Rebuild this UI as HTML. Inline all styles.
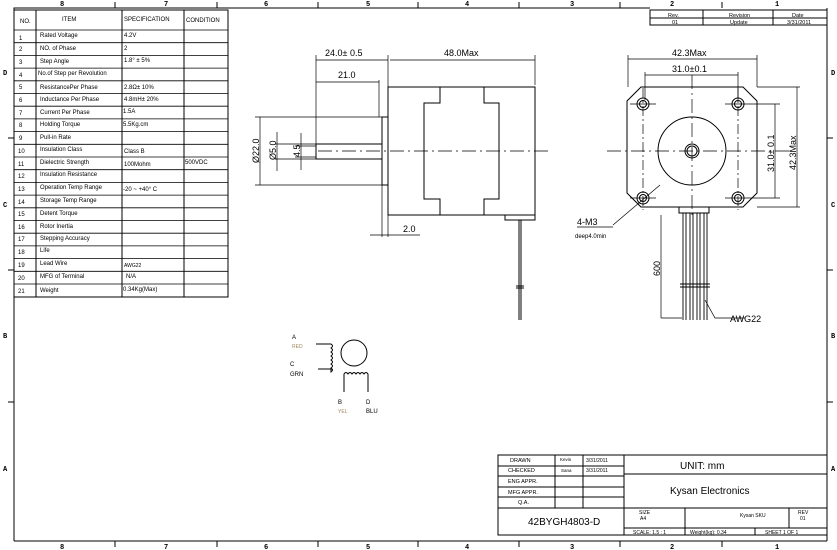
<!DOCTYPE html>
<html><head><meta charset="utf-8"><style>
html,body{margin:0;padding:0;background:#fff;}
svg{display:block;font-family:"Liberation Sans",sans-serif;}
</style></head><body>
<svg width="837" height="550" viewBox="0 0 837 550" xmlns="http://www.w3.org/2000/svg">
<g stroke="#000" fill="none" stroke-width="1">
<!-- border -->
<polyline points="14,541 14,8 650,8"/>
<line x1="827" y1="8" x2="827" y2="541"/>
<line x1="14" y1="541" x2="827" y2="541"/>
<!-- zone ticks -->
<g stroke-width="1">
<line x1="115" y1="2" x2="115" y2="8"/><line x1="217" y1="2" x2="217" y2="8"/><line x1="318" y1="2" x2="318" y2="8"/><line x1="418" y1="2" x2="418" y2="8"/><line x1="519" y1="2" x2="519" y2="8"/><line x1="620" y1="2" x2="620" y2="8"/><line x1="722" y1="2" x2="722" y2="8"/>
<line x1="115" y1="541" x2="115" y2="547"/><line x1="217" y1="541" x2="217" y2="547"/><line x1="318" y1="541" x2="318" y2="547"/><line x1="418" y1="541" x2="418" y2="547"/><line x1="519" y1="541" x2="519" y2="547"/><line x1="620" y1="541" x2="620" y2="547"/><line x1="722" y1="541" x2="722" y2="547"/>
<line x1="8" y1="138" x2="14" y2="138"/><line x1="8" y1="270" x2="14" y2="270"/><line x1="8" y1="402" x2="14" y2="402"/>
<line x1="827" y1="138" x2="833" y2="138"/><line x1="827" y1="270" x2="833" y2="270"/><line x1="827" y1="402" x2="833" y2="402"/>
</g>
<!-- spec table -->
<rect x="14" y="10" width="214" height="287"/>
<line x1="36" y1="10" x2="36" y2="297"/><line x1="122" y1="10" x2="122" y2="297"/><line x1="184" y1="10" x2="184" y2="297"/>
<g stroke-width="0.8">
<line x1="14" y1="30" x2="228" y2="30"/><line x1="14" y1="42.7" x2="228" y2="42.7"/><line x1="14" y1="55.4" x2="228" y2="55.4"/><line x1="14" y1="68.1" x2="228" y2="68.1"/><line x1="14" y1="80.8" x2="228" y2="80.8"/><line x1="14" y1="93.5" x2="228" y2="93.5"/><line x1="14" y1="106.2" x2="228" y2="106.2"/><line x1="14" y1="118.9" x2="228" y2="118.9"/><line x1="14" y1="131.6" x2="228" y2="131.6"/><line x1="14" y1="144.3" x2="228" y2="144.3"/><line x1="14" y1="157" x2="228" y2="157"/><line x1="14" y1="169.7" x2="228" y2="169.7"/><line x1="14" y1="182.4" x2="228" y2="182.4"/><line x1="14" y1="195.1" x2="228" y2="195.1"/><line x1="14" y1="207.8" x2="228" y2="207.8"/><line x1="14" y1="220.5" x2="228" y2="220.5"/><line x1="14" y1="233.2" x2="228" y2="233.2"/><line x1="14" y1="245.9" x2="228" y2="245.9"/><line x1="14" y1="258.6" x2="228" y2="258.6"/><line x1="14" y1="271.3" x2="228" y2="271.3"/><line x1="14" y1="284" x2="228" y2="284"/>
</g>
<!-- revision table -->
<rect x="650" y="10" width="177" height="15"/>
<line x1="650" y1="18" x2="827" y2="18"/><line x1="703" y1="10" x2="703" y2="25"/><line x1="773" y1="10" x2="773" y2="25"/>
<!-- side view -->
<rect x="388" y="87" width="147" height="128"/>
<polyline points="440,87 440,103 424,103 424,199 440,199 440,215"/>
<polyline points="484,87 484,103 499,103 499,199 484,199 484,215"/>
<rect x="382" y="117" width="6" height="68"/>
<rect x="316" y="144" width="66" height="15"/>
<line x1="318" y1="151" x2="552" y2="151" stroke-dasharray="14,4,2,4" stroke-width="0.8"/>
<path d="M505,215 v5 h30 v-5"/>
<line x1="519" y1="220" x2="519" y2="320"/><line x1="521" y1="220" x2="521" y2="320"/>
<line x1="516" y1="286" x2="524" y2="286"/><line x1="516" y1="288" x2="524" y2="288"/>
<g stroke-width="0.7">
<line x1="316" y1="55" x2="316" y2="144"/><line x1="388" y1="55" x2="388" y2="87"/><line x1="535" y1="55" x2="535" y2="85"/>
<line x1="316" y1="60" x2="388" y2="60"/><line x1="390" y1="60" x2="535" y2="60"/>
<line x1="379" y1="80" x2="379" y2="117"/><line x1="316" y1="82" x2="379" y2="82"/>
<line x1="255" y1="117" x2="382" y2="117"/><line x1="255" y1="185" x2="382" y2="185"/>
<line x1="260" y1="117" x2="260" y2="185"/>
<line x1="275" y1="144" x2="316" y2="144"/><line x1="275" y1="159" x2="316" y2="159"/>
<line x1="277" y1="132" x2="277" y2="171"/><line x1="301" y1="133" x2="301" y2="170"/>
<line x1="295" y1="146" x2="316" y2="146"/><line x1="295" y1="157" x2="316" y2="157"/>
<line x1="382" y1="185" x2="382" y2="237"/><line x1="388" y1="215" x2="388" y2="237"/>
<line x1="370" y1="235" x2="420" y2="235"/>
</g>
<!-- front view -->
<polygon points="641,87 743,87 757,101 757,193 743,207 641,207 627,193 627,101"/>
<circle cx="692" cy="151" r="34"/>
<circle cx="692" cy="151" r="7"/><circle cx="692" cy="151" r="5"/>
<g>
<circle cx="643" cy="104" r="6"/><circle cx="643" cy="104" r="3.5"/>
<circle cx="738" cy="104" r="6"/><circle cx="738" cy="104" r="3.5"/>
<circle cx="643" cy="198" r="6"/><circle cx="643" cy="198" r="3.5"/>
<circle cx="738" cy="198" r="6"/><circle cx="738" cy="198" r="3.5"/>
</g>
<g stroke-width="0.7">
<line x1="607" y1="151" x2="790" y2="151" stroke-dasharray="14,4,2,4"/>
<line x1="692" y1="75" x2="692" y2="215" stroke-dasharray="14,4,2,4"/>
<line x1="643" y1="88" x2="643" y2="210" stroke-dasharray="10,3,2,3"/>
<line x1="738" y1="88" x2="738" y2="210" stroke-dasharray="10,3,2,3"/>
<line x1="630" y1="104" x2="656" y2="104"/><line x1="725" y1="104" x2="780" y2="104"/>
<line x1="630" y1="198" x2="656" y2="198"/><line x1="725" y1="198" x2="780" y2="198"/>
<line x1="757" y1="87" x2="800" y2="87"/><line x1="757" y1="207" x2="800" y2="207"/>
<line x1="628" y1="55" x2="628" y2="87"/><line x1="757" y1="55" x2="757" y2="87"/>
<line x1="628" y1="59" x2="757" y2="59"/>
<line x1="645" y1="72" x2="645" y2="100"/><line x1="738" y1="72" x2="738" y2="100"/>
<line x1="645" y1="75" x2="738" y2="75"/>
<line x1="775" y1="104" x2="775" y2="198"/><line x1="797" y1="87" x2="797" y2="207"/>
<line x1="660" y1="185" x2="613" y2="225"/><line x1="577" y1="227" x2="613" y2="227"/>
<line x1="661" y1="215" x2="661" y2="318"/><line x1="661" y1="318" x2="682" y2="318"/>
<polyline points="705,300 715,318 745,318"/>
</g>
<path d="M679,207 v6 h30 v-6"/>
<g stroke-width="0.9">
<line x1="683" y1="213" x2="683" y2="320"/><line x1="686" y1="213" x2="686" y2="320"/>
<line x1="690" y1="213" x2="690" y2="320"/><line x1="693" y1="213" x2="693" y2="320"/>
<line x1="697" y1="213" x2="697" y2="320"/><line x1="700" y1="213" x2="700" y2="320"/>
<line x1="704" y1="213" x2="704" y2="320"/><line x1="707" y1="213" x2="707" y2="320"/>
<line x1="680" y1="284" x2="710" y2="284"/><line x1="680" y1="287" x2="710" y2="287"/>
</g>
<!-- schematic -->
<circle cx="354" cy="353" r="13"/>
<path d="M316,344 H331 q3,2 0,4 q3,2 0,4 q3,2 0,4 q3,2 0,4 q3,2 0,4 q3,2 0,4 q3,2 0,4 V369 H318"/>
<path d="M344,392 V374 q2,-3 4,0 q2,-3 4,0 q2,-3 4,0 q2,-3 4,0 q2,-3 4,0 q2,-3 4,0 V392"/>
<!-- title block -->
<rect x="498" y="455" width="329" height="80"/>
<line x1="555" y1="455" x2="555" y2="508"/><line x1="583" y1="455" x2="583" y2="508"/><line x1="624" y1="455" x2="624" y2="535"/>
<line x1="498" y1="466" x2="624" y2="466"/><line x1="498" y1="476" x2="624" y2="476"/><line x1="498" y1="487" x2="624" y2="487"/><line x1="498" y1="497" x2="624" y2="497"/><line x1="498" y1="508" x2="827" y2="508"/>
<line x1="624" y1="474" x2="827" y2="474"/>
<line x1="624" y1="528" x2="827" y2="528"/>
<line x1="685" y1="508" x2="685" y2="535"/><line x1="789" y1="508" x2="789" y2="528"/><line x1="755" y1="528" x2="755" y2="535"/>
</g>
<g font-size="6" fill="#000">
<text x="20" y="23">NO.</text><text x="62" y="21">ITEM</text><text x="124" y="21">SPECIFICATION</text><text x="186" y="22">CONDITION</text>
<text x="19" y="40">1</text><text x="40" y="37">Rated Voltage</text><text x="124" y="37">4.2V</text>
<text x="19" y="51">2</text><text x="40" y="50">NO. of Phase</text><text x="124" y="50">2</text>
<text x="19" y="64">3</text><text x="40" y="63">Step Angle</text><text x="124" y="62">1.8° ± 5%</text>
<text x="19" y="77">4</text><text x="38" y="75">No.of Step per Revolution</text>
<text x="19" y="89">5</text><text x="40" y="89">ResistancePer Phase</text><text x="124" y="89">2.8Ω± 10%</text>
<text x="19" y="102">6</text><text x="40" y="101">Inductance Per Phase</text><text x="124" y="101">4.8mH± 20%</text>
<text x="19" y="115">7</text><text x="40" y="114">Current Per Phase</text><text x="123" y="113">1.5A</text>
<text x="19" y="127">8</text><text x="40" y="126">Holding Torque</text><text x="123" y="126">5.5Kg.cm</text>
<text x="19" y="140">9</text><text x="40" y="139">Pull-in Rate</text>
<text x="18" y="153">10</text><text x="40" y="151">Insulation Class</text><text x="124" y="153">Class B</text>
<text x="18" y="166">11</text><text x="40" y="164">Dielectric Strength</text><text x="124" y="166">100Mohm</text><text x="185" y="164">500VDC</text>
<text x="18" y="178">12</text><text x="40" y="176">Insulation Resistance</text>
<text x="18" y="191">13</text><text x="40" y="189">Operation Temp Range</text><text x="123" y="191">-20 ~ +40° C</text>
<text x="18" y="204">14</text><text x="40" y="202">Storage Temp Range</text>
<text x="18" y="216">15</text><text x="40" y="215">Detent Torque</text>
<text x="18" y="229">16</text><text x="40" y="228">Rotor Inertia</text>
<text x="18" y="241">17</text><text x="40" y="240">Stepping Accuracy</text>
<text x="18" y="254">18</text><text x="40" y="252">Life</text>
<text x="18" y="267">19</text><text x="40" y="265">Lead  Wire</text><text x="124" y="267" font-size="5">AWG22</text>
<text x="18" y="280">20</text><text x="40" y="278">MFG of Terminal</text><text x="126" y="278">N/A</text>
<text x="18" y="293">21</text><text x="40" y="292">Weight</text><text x="123" y="291">0.34Kg(Max)</text>
<text x="668" y="17" font-size="5.5">Rev.</text><text x="729" y="17" font-size="5.5">Revision</text><text x="792" y="17" font-size="5.5">Date</text>
<text x="672" y="24" font-size="5.5">01</text><text x="730" y="24" font-size="5.5">Update</text><text x="787" y="24" font-size="5.5">3/31/2011</text>
</g>
<g font-size="9" fill="#000">
<text x="325" y="56">24.0± 0.5</text><text x="444" y="56">48.0Max</text><text x="338" y="78">21.0</text><text x="403" y="232">2.0</text>
<text transform="translate(259,163) rotate(-90)">Ø22.0</text>
<text transform="translate(276,160) rotate(-90)">Ø5.0</text>
<text transform="translate(300,157) rotate(-90)">4.5</text>
<text x="672" y="56">42.3Max</text><text x="672" y="72">31.0±0.1</text>
<text transform="translate(774,172) rotate(-90)">31.0± 0.1</text>
<text transform="translate(796,170) rotate(-90)">42.3Max</text>
<text x="577" y="225">4-M3</text>
<text transform="translate(660,276) rotate(-90)">600</text>
<text x="730" y="322">AWG22</text>
<text x="680" y="469" font-size="10">UNIT: mm</text>
<text x="670" y="494" font-size="10">Kysan Electronics</text>
<text x="528" y="525" font-size="10">42BYGH4803-D</text>
</g>
<g font-size="6" fill="#000">
<text x="575" y="238" font-size="6">deep4.0min</text>
<text x="292" y="339">A</text><text x="292" y="348" fill="#a08860" font-size="5">RED</text>
<text x="290" y="366">C</text><text x="290" y="376">GRN</text>
<text x="338" y="404">B</text><text x="338" y="413" fill="#a08860" font-size="5">YEL</text>
<text x="366" y="404">D</text><text x="366" y="413">BLU</text>
<text x="510" y="462" font-size="5.5">DRAWN</text><text x="560" y="461" font-size="4.5">Kevin</text><text x="586" y="462" font-size="5">3/31/2011</text>
<text x="508" y="472" font-size="5.5">CHECKED</text><text x="561" y="472" font-size="4.5">Sana</text><text x="586" y="472" font-size="5">3/31/2011</text>
<text x="508" y="483" font-size="5.5">ENG APPR.</text><text x="508" y="494" font-size="5.5">MFG APPR.</text><text x="518" y="504" font-size="5.5">Q.A.</text>
<text x="639" y="514" font-size="5">SIZE</text><text x="640" y="520" font-size="5">A4</text>
<text x="740" y="517" font-size="5">Kysan SKU</text>
<text x="798" y="514" font-size="5">REV</text><text x="800" y="520" font-size="5">01</text>
<text x="633" y="534" font-size="5">SCALE: 1.5 : 1</text><text x="690" y="534" font-size="5">Weight(kg): 0.34</text><text x="765" y="534" font-size="5">SHEET 1 OF 1</text>
</g>
<g font-size="7" font-weight="bold" fill="#000" font-family="Liberation Mono,monospace">
<text x="60" y="6">8</text><text x="164" y="6">7</text><text x="264" y="6">6</text><text x="366" y="6">5</text><text x="465" y="6">4</text><text x="570" y="6">3</text><text x="670" y="6">2</text><text x="775" y="6">1</text>
<text x="60" y="549">8</text><text x="164" y="549">7</text><text x="264" y="549">6</text><text x="366" y="549">5</text><text x="465" y="549">4</text><text x="570" y="549">3</text><text x="670" y="549">2</text><text x="775" y="549">1</text>
<text x="3" y="75">D</text><text x="3" y="207">C</text><text x="3" y="338">B</text><text x="3" y="471">A</text>
<text x="831" y="75">D</text><text x="831" y="207">C</text><text x="831" y="338">B</text><text x="831" y="471">A</text>
</g>
</svg>
</body></html>
